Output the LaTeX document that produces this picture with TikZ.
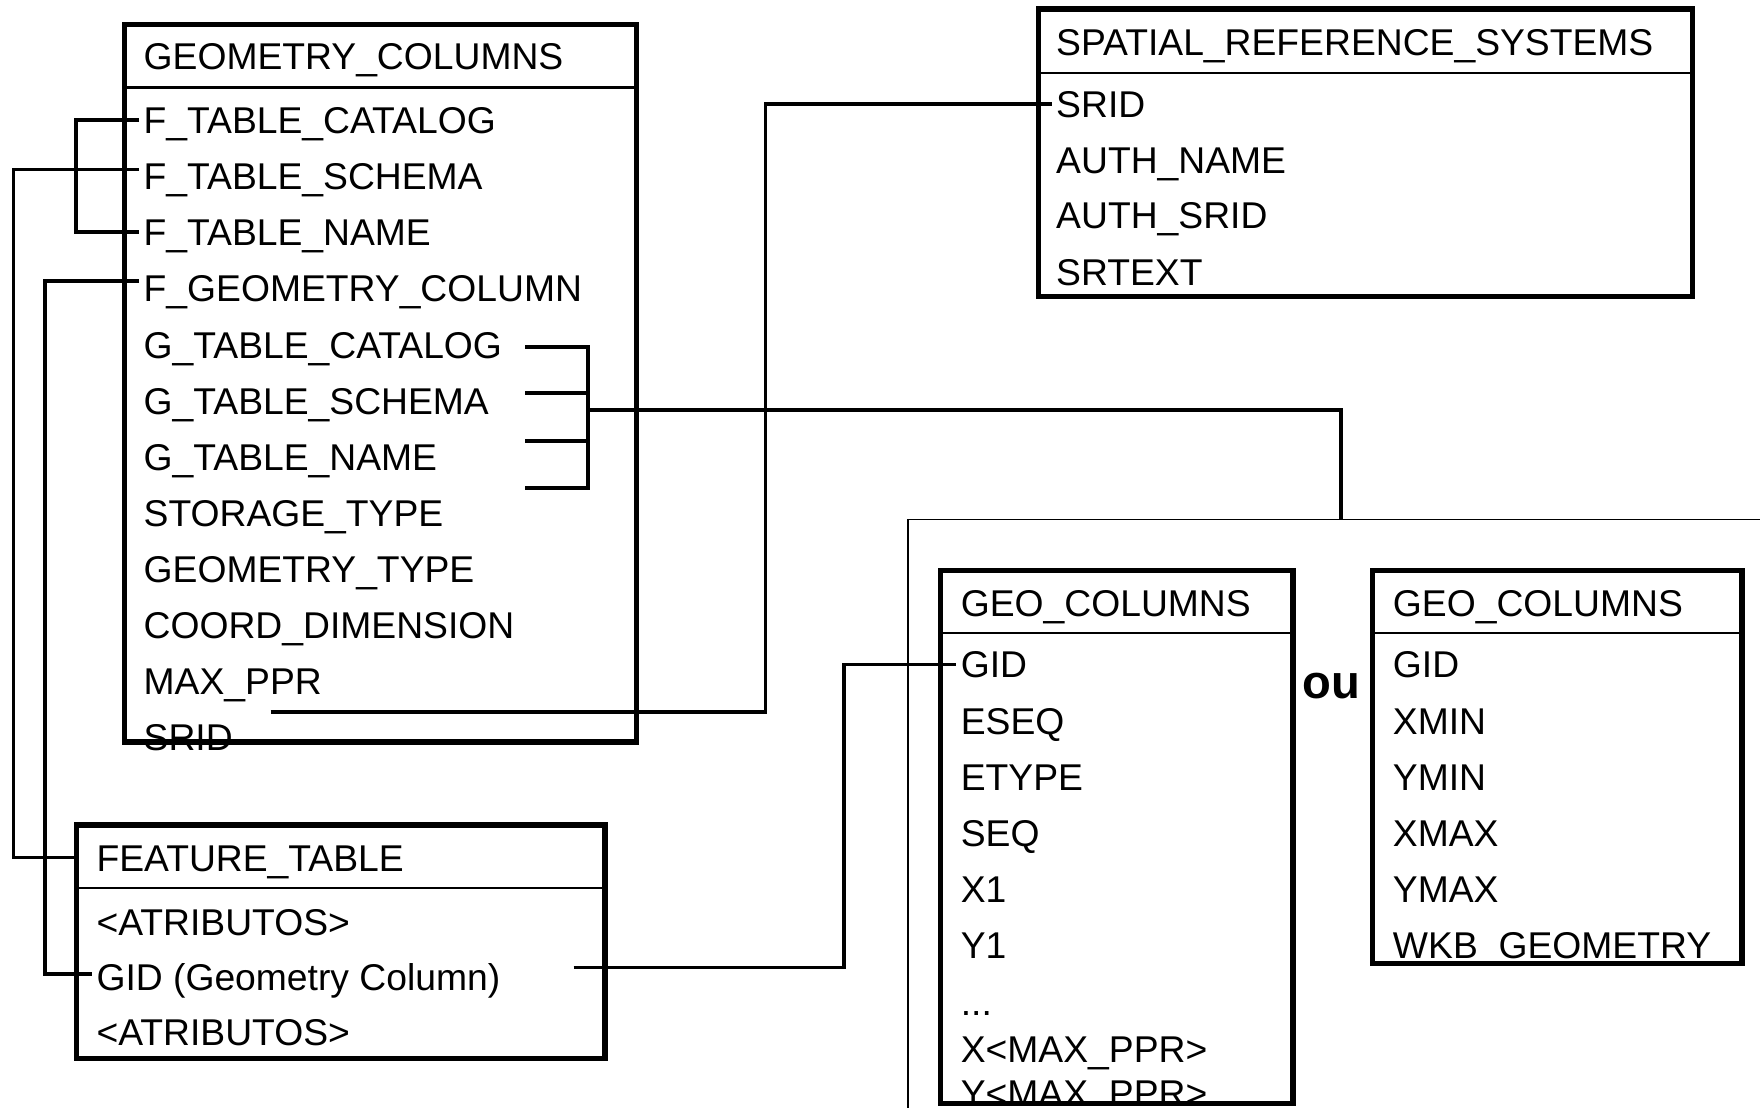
\documentclass[tikz,border=0pt]{standalone}
\usepackage{fontspec}
\setmainfont{Liberation Sans}
\begin{document}
\begin{tikzpicture}[x=0.5pt,y=-0.5pt,
  every node/.style={font=\fontsize{16.6}{20}\selectfont},
  txt/.style={anchor=west, inner sep=0pt, outer sep=0pt, text height=12pt, text depth=0pt},
  tbl/.style={draw, line width=2.3pt, anchor=north west, inner sep=0pt, outer sep=0pt},
  hdr/.style={line width=1pt},
  conn/.style={line width=1.7pt},
  frm/.style={line width=0.7pt}]
\clip (0,0) rectangle (1568,987);

% ---------- GEOMETRY_COLUMNS ----------
\node[tbl, minimum width=228pt, minimum height=319.5pt] (gc) at (111,22) {};
\draw[hdr] (gc.west |- 0,78) -- (gc.east |- 0,78);
\node[txt] (gct) at (128,50) {GEOMETRY\_COLUMNS};
\node[txt] (fcat) at (128,107) {F\_TABLE\_CATALOG};
\node[txt] (fsch) at (128,157) {F\_TABLE\_SCHEMA};
\node[txt] (fname) at (128,207) {F\_TABLE\_NAME};
\node[txt] (fgeo) at (128,257) {F\_GEOMETRY\_COLUMN};
\node[txt] (gcat) at (128,307) {G\_TABLE\_CATALOG};
\node[txt] (gsch) at (128,357) {G\_TABLE\_SCHEMA};
\node[txt] (gname) at (128,407) {G\_TABLE\_NAME};
\node[txt] (stor) at (128,457) {STORAGE\_TYPE};
\node[txt] (gtype) at (128,507) {GEOMETRY\_TYPE};
\node[txt] (cdim) at (128,557) {COORD\_DIMENSION};
\node[txt] (mppr) at (128,607) {MAX\_PPR};
\node[txt] (gsrid) at (128,657) {SRID};

% ---------- SPATIAL_REFERENCE_SYSTEMS ----------
\node[tbl, minimum width=291.5pt, minimum height=128pt] (srs) at (925,8) {};
\draw[hdr] (srs.west |- 0,65) -- (srs.east |- 0,65);
\node[txt] (srst) at (941,37) {SPATIAL\_REFERENCE\_SYSTEMS};
\node[txt] (ssrid) at (941,93) {SRID};
\node[txt] (sauth) at (941,143) {AUTH\_NAME};
\node[txt] (sasrid) at (941,192) {AUTH\_SRID};
\node[txt] (stext) at (941,242) {SRTEXT};

% ---------- FEATURE_TABLE ----------
\node[tbl, minimum width=235.5pt, minimum height=104pt] (ft) at (68,735) {};
\draw[hdr] (ft.west |- 0,791) -- (ft.east |- 0,791);
\node[txt] (ftt) at (86,764) {FEATURE\_TABLE};
\node[txt] (fta1) at (86,821) {<ATRIBUTOS>};
\node[txt] (ftgid) at (86,870) {GID (Geometry Column)};
\node[txt] (fta2) at (86,919) {<ATRIBUTOS>};

% ---------- frame ----------
\draw[frm] (1580,463) -- (809,463) -- (809,1000);

% ---------- GEO_COLUMNS (left) ----------
\node[tbl, minimum width=157pt, minimum height=237.5pt] (geoa) at (838,508) {};
\draw[hdr] (geoa.west |- 0,564) -- (geoa.east |- 0,564);
\node[txt] (geoat) at (856,537) {GEO\_COLUMNS};
\node[txt] (agid) at (856,592) {GID};
\node[txt] (aeseq) at (856,642) {ESEQ};
\node[txt] (aetype) at (856,692) {ETYPE};
\node[txt] (aseq) at (856,742) {SEQ};
\node[txt] (ax1) at (856,792) {X1};
\node[txt] (ay1) at (856,842) {Y1};
\node[txt] (adots) at (856,893) {...};
\node[txt] (axm) at (856,935) {X<MAX\_PPR>};
\node[txt] (aym) at (856,974) {Y<MAX\_PPR>};

% ---------- GEO_COLUMNS (right) ----------
\node[tbl, minimum width=164.5pt, minimum height=175pt] (geob) at (1223,508) {};
\draw[hdr] (geob.west |- 0,564) -- (geob.east |- 0,564);
\node[txt] (geobt) at (1241,537) {GEO\_COLUMNS};
\node[txt] (bgid) at (1241,592) {GID};
\node[txt] (bxmin) at (1241,642) {XMIN};
\node[txt] (bymin) at (1241,692) {YMIN};
\node[txt] (bxmax) at (1241,742) {XMAX};
\node[txt] (bymax) at (1241,792) {YMAX};
\node[txt] (bwkb) at (1241,842) {WKB\_GEOMETRY};

\node[font=\fontsize{21}{24}\selectfont\bfseries, anchor=base, inner sep=0pt] (ou) at (1186,622) {ou};

% ---------- connectors ----------
\coordinate (jA) at (68,0);
\coordinate (jB) at (12,0);
\coordinate (jC) at (40,0);
\draw[conn] ([xshift=-2pt]fcat.west) -- (fcat.west -| jA) -- (fname.west -| jA) -- ([xshift=-2pt]fname.west);

\coordinate (sA) at ([xshift=-2pt,yshift=3pt]fsch.west);
\draw[conn] (sA) -- (sA -| jB) -- (jB |- ftt.west) -- (ft.west |- ftt.west);

\coordinate (sG) at ([xshift=-2pt,yshift=3.5pt]fgeo.west);
\coordinate (eG) at ([xshift=-2pt,yshift=1pt]ftgid.west);
\draw[conn] (sG) -- (sG -| jC) -- (jC |- eG) -- (eG);

\coordinate (g1) at (468,309);
\coordinate (g2) at (468,350);
\coordinate (g3) at (468,393);
\coordinate (g4) at (468,435);
\coordinate (gj) at (524,365);
\coordinate (ftop) at (1195,463);
\draw[conn] (g1) -- (g1 -| gj) -- (g4 -| gj) -- (g4);
\draw[conn] (g2) -- (g2 -| gj);
\draw[conn] (g3) -- (g3 -| gj);
\draw[conn] (gj) -| (ftop);

\coordinate (s0) at (241,634);
\coordinate (sv) at (682,0);
\draw[conn] (s0) -- (s0 -| sv) -- (sv |- ssrid.west) -- ([xshift=-2pt]ssrid.west);

\coordinate (q0) at (511,862);
\coordinate (qv) at (752,0);
\draw[conn] (q0) -- (q0 -| qv) -- (qv |- agid.west) -- ([xshift=-2pt]agid.west);
\end{tikzpicture}
\end{document}
